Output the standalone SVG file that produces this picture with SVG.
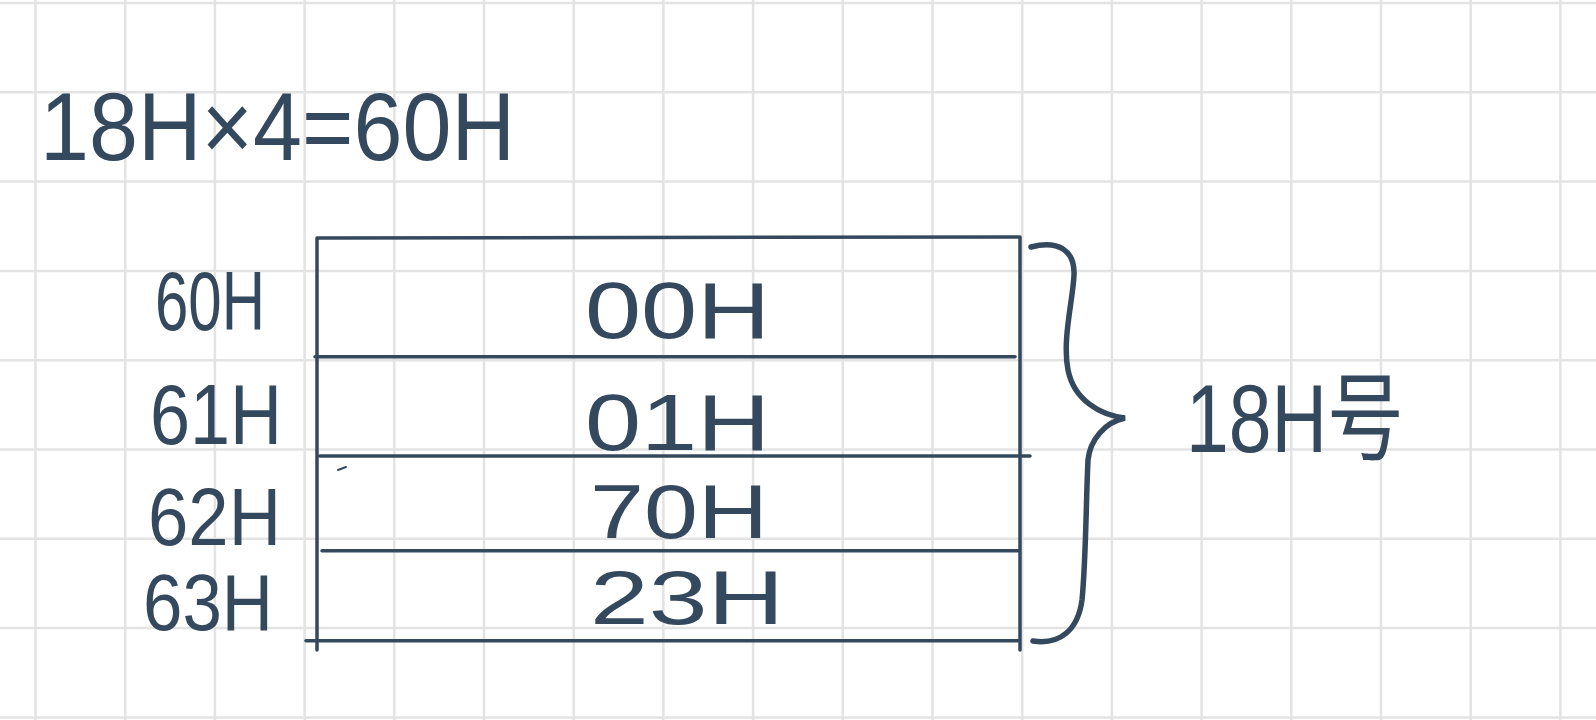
<svg xmlns="http://www.w3.org/2000/svg" width="1596" height="720" viewBox="0 0 1596 720">
<style>
.grid line{stroke:#e3e3e3;stroke-width:2.5}
.ink{stroke:#34495e;stroke-width:3.5;fill:none;stroke-linecap:round}
.brace{stroke-width:5.5}
.tick{stroke-width:2}
.t{fill:#34495e;font-family:"Liberation Sans","Noto Sans CJK SC",sans-serif}
</style>
<rect width="1596" height="720" fill="#ffffff"/>
<g class="grid" id="grid">
<line x1="35.5" y1="0" x2="35.5" y2="720"/>
<line x1="125.2" y1="0" x2="125.2" y2="720"/>
<line x1="214.9" y1="0" x2="214.9" y2="720"/>
<line x1="304.6" y1="0" x2="304.6" y2="720"/>
<line x1="394.3" y1="0" x2="394.3" y2="720"/>
<line x1="484" y1="0" x2="484" y2="720"/>
<line x1="573.7" y1="0" x2="573.7" y2="720"/>
<line x1="663.4" y1="0" x2="663.4" y2="720"/>
<line x1="753.1" y1="0" x2="753.1" y2="720"/>
<line x1="842.8" y1="0" x2="842.8" y2="720"/>
<line x1="932.5" y1="0" x2="932.5" y2="720"/>
<line x1="1022.2" y1="0" x2="1022.2" y2="720"/>
<line x1="1111.9" y1="0" x2="1111.9" y2="720"/>
<line x1="1201.6" y1="0" x2="1201.6" y2="720"/>
<line x1="1291.3" y1="0" x2="1291.3" y2="720"/>
<line x1="1381" y1="0" x2="1381" y2="720"/>
<line x1="1470.7" y1="0" x2="1470.7" y2="720"/>
<line x1="1560.4" y1="0" x2="1560.4" y2="720"/>
<line x1="0" y1="3" x2="1596" y2="3"/>
<line x1="0" y1="92.3" x2="1596" y2="92.3"/>
<line x1="0" y1="181.6" x2="1596" y2="181.6"/>
<line x1="0" y1="270.9" x2="1596" y2="270.9"/>
<line x1="0" y1="360.2" x2="1596" y2="360.2"/>
<line x1="0" y1="449.5" x2="1596" y2="449.5"/>
<line x1="0" y1="538.8" x2="1596" y2="538.8"/>
<line x1="0" y1="628.1" x2="1596" y2="628.1"/>
<line x1="0" y1="717.4" x2="1596" y2="717.4"/>
</g>
<g id="title">
<text class="t" x="40" y="160" font-size="96" textLength="475" lengthAdjust="spacingAndGlyphs">18H×4=60H</text>
</g>
<g id="table">
<path class="ink" d="M317 238 L1020 237 M315 356.7 L1015 356.7 M320 456 L1030 456 M322 550.7 L1018 550.7 M306 640.7 L1020 640.7 M317 238 L317 650 M1020 237 L1020 650"/>
<path class="ink tick" d="M338 470 L346 467"/>
</g>
<g id="addr-labels">
<text class="t" x="155" y="330" font-size="84" textLength="110" lengthAdjust="spacingAndGlyphs">60H</text>
<text class="t" x="150" y="444" font-size="86" textLength="132" lengthAdjust="spacingAndGlyphs">61H</text>
<text class="t" x="148" y="545" font-size="82" textLength="133" lengthAdjust="spacingAndGlyphs">62H</text>
<text class="t" x="143" y="630" font-size="80" textLength="130" lengthAdjust="spacingAndGlyphs">63H</text>
</g>
<g id="values">
<text class="t" x="585" y="338" font-size="80" textLength="185" lengthAdjust="spacingAndGlyphs">00H</text>
<text class="t" x="585" y="450" font-size="80" textLength="185" lengthAdjust="spacingAndGlyphs">01H</text>
<text class="t" x="590" y="538" font-size="76" textLength="178" lengthAdjust="spacingAndGlyphs">70H</text>
<text class="t" x="590" y="624" font-size="76" textLength="194" lengthAdjust="spacingAndGlyphs">23H</text>
</g>
<g id="brace">
<path class="ink brace" d="M1031 247 C1058 240 1075 250 1074 275 C1073 300 1062 340 1068 370 C1074 400 1100 415 1125 418 C1105 422 1090 440 1088 460 C1086 500 1086 560 1082 600 C1078 630 1060 645 1033 641"/>
</g>
<g id="count-label">
<text class="t" x="1186" y="452" font-size="96" textLength="218" lengthAdjust="spacingAndGlyphs">18H号</text>
</g>
</svg>
